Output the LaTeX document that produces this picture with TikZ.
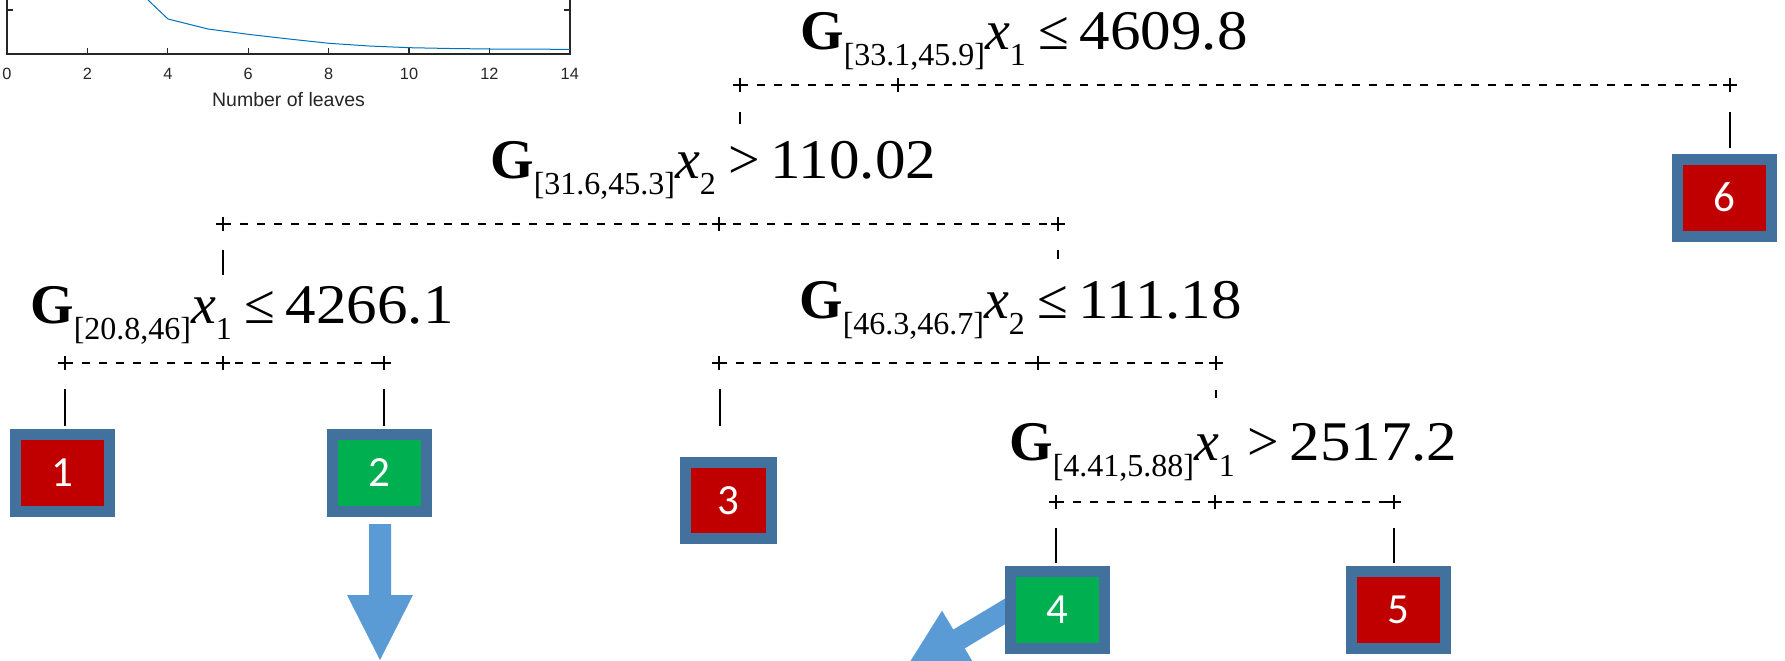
\documentclass[tikz,border=0pt]{standalone}
\usepackage{graphicx}
\usepackage{fontspec}
\setmainfont{Liberation Serif}
\newfontfamily\sansf{Liberation Sans}
\newfontfamily\calf{Carlito}
\usetikzlibrary{calc,backgrounds}
\definecolor{bord}{RGB}{65,113,156}
\definecolor{leafred}{RGB}{192,0,0}
\definecolor{leafgreen}{RGB}{0,176,80}
\definecolor{arrblue}{RGB}{91,155,213}
\definecolor{axgray}{RGB}{38,38,38}
\definecolor{curveblue}{RGB}{0,114,189}
\newcommand\lsub[1]{\raisebox{-16pt}{\fontsize{32}{32}\selectfont #1}}
\newcommand\glab[4]{\textbf{G}\lsub{#1}\textit{x}\lsub{#2}\hspace{13pt}#3\hspace{10pt}\scalebox{1.09}[1]{#4}}
\newcommand\plusat[1]{\draw[pl] ($(#1)+(-7,0)$) -- ($(#1)+(7,0)$) ($(#1)+(0,-7)$) -- ($(#1)+(0,7)$);}
\pgfdeclarelayer{bgzero}
\pgfdeclarelayer{bgone}
\pgfsetlayers{bgzero,bgone,main}
\begin{document}
\begin{tikzpicture}[x=1pt,y=-1pt,
  lbl/.style={inner sep=0pt, font=\fontsize{56}{60}\selectfont, anchor=base west},
  leaf/.style={draw=bord, line width=11pt, text=white, font=\calf\fontsize{43}{43}\selectfont, inner sep=0pt, minimum width=94pt, minimum height=77pt},
  dline/.style={line width=1.3pt, dash pattern=on 8pt off 9pt},
  pl/.style={line width=2.4pt},
  vt/.style={line width=1.8pt},
  axis/.style={draw=axgray, line width=1.1pt},
  curvest/.style={draw=curveblue, line width=1pt},
  ticklbl/.style={font=\sansf\fontsize{16.3}{18}\selectfont, text=axgray, anchor=base, inner sep=0pt},
  axlbl/.style={font=\sansf\fontsize{19.5}{22}\selectfont, text=axgray, anchor=base, inner sep=0pt},
  blockarrow/.style={fill=arrblue}]
\useasboundingbox (0,0) rectangle (1785,661);
\begin{pgfonlayer}{bgzero}\fill[white] (0,0) rectangle (1785,661);\end{pgfonlayer}
\clip (0,0) rectangle (1785,661);

% ---- plot fragment ----
\draw[axis] (7,0) -- (7,54) -- (570,54) -- (570,0);
\foreach \u in {0,2,...,14} {
  \draw[axis] ({7+40.2*\u},54) -- ({7+40.2*\u},48);
  \node[ticklbl] (t\u) at ({7+40.2*\u},80) {\u};
}
\draw[axis] (7,10) -- (13,10);
\draw[axis] (570,10) -- (564,10);
\node[axlbl] (xl) at (288.5,106) {Number of leaves};
\draw[curvest] plot coordinates {(128,-19) (168,19) (208,29) (248,34.3) (289,39) (329,43.3) (369,46) (409.5,47.7) (449.5,48.5) (490,49) (530,49.2) (570,49.3)};

% ---- labels ----
\node[lbl] (L1) at (800,50) {\glab{[33.1,45.9]}{1}{≤}{4609.8}};
\node[lbl] (L2) at (490,178) {\glab{[31.6,45.3]}{2}{>}{110.02}};
\node[lbl] (L3) at (30,323) {\glab{[20.8,46]}{1}{≤}{4266.1}};
\node[lbl] (L4) at (799,318) {\glab{[46.3,46.7]}{2}{≤}{111.18}};
\node[lbl] (L5) at (1009,460) {\glab{[4.41,5.88]}{1}{>}{2517.2}};

% ---- leaves ----
\node[leaf, fill=leafred] (n1) at (62.5,473) {1};
\node[leaf, fill=leafgreen] (n2) at (379.5,473) {2};
\node[leaf, fill=leafred, minimum width=86pt, minimum height=76pt] (n3) at (728.5,500.5) {3};
\node[leaf, fill=leafgreen] (n4) at (1057.5,609.5) {4};
\node[leaf, fill=leafred] (n5) at (1398,609.5) {5};
\node[leaf, fill=leafred] (n6) at (1724.5,197.5) {6};

% ---- split lines ----
\coordinate (A1) at (740,85);  \coordinate (M1) at (898,85);  \coordinate (B1) at (1730,85);
\coordinate (A2) at (223,224); \coordinate (M2) at (719,224); \coordinate (B2) at (1058,224);
\coordinate (A3) at (65,363);  \coordinate (M3) at (223,363); \coordinate (B3) at (384,363);
\coordinate (A4) at (719,363); \coordinate (M4) at (1038,363); \coordinate (B4) at (1216,363);
\coordinate (A5) at (1056,502); \coordinate (M5) at (1215,502); \coordinate (B5) at (1394,502);
\foreach \l in {1,...,5} {
  \draw[dline] (A\l) -- (B\l);
  \plusat{A\l}\plusat{M\l}\plusat{B\l}
}

% ---- vertical connectors ----
\coordinate (v1a) at (740,112);  \coordinate (v1b) at (740,124);
\coordinate (v1c) at (1730,112);
\coordinate (v2a) at (223,250);  \coordinate (v2b) at (223,275);
\coordinate (v2c) at (1058,250); \coordinate (v2d) at (1058,259);
\coordinate (v3a) at (65,389);   \coordinate (v3b) at (384,389);
\coordinate (v4a) at (720,389);  \coordinate (v4b) at (720,426);
\coordinate (v4c) at (1216,390); \coordinate (v4d) at (1216,398);
\coordinate (v5a) at (1056,528); \coordinate (v5b) at (1394,528);
\draw[vt] (v1a) -- (v1b);
\draw[vt, shorten >=6pt] (v1c) -- (v1c |- n6.north);
\draw[vt] (v2a) -- (v2b);
\draw[vt] (v2c) -- (v2d);
\draw[vt, shorten >=3pt] (v3a) -- (v3a |- n1.north);
\draw[vt, shorten >=3pt] (v3b) -- (v3b |- n2.north);
\draw[vt] (v4a) -- (v4b);
\draw[vt] (v4c) -- (v4d);
\draw[vt, shorten >=3pt] (v5a) -- (v5a |- n4.north);
\draw[vt, shorten >=3pt] (v5b) -- (v5b |- n5.north);

% ---- block arrows ----
\begin{pgfonlayer}{bgone}
\fill[blockarrow] ($(n2.south)+(-10.5,7)$) -- ($(n2.south)+(11.5,7)$) -- ($(n2.south)+(11.5,78)$) -- ($(n2.south)+(33.5,78)$) -- ($(n2.south)+(0.5,143)$) -- ($(n2.south)+(-32.5,78)$) -- ($(n2.south)+(-10.5,78)$) -- cycle;
\fill[blockarrow] ($(n4.west)+(1.4,-11.8)$) -- ($(n4.west)+(-51.7,20.1)$) -- ($(n4.west)+(-63,1.2)$) -- ($(n4.west)+(-101.7,63)$) -- ($(n4.west)+(-29,57.8)$) -- ($(n4.west)+(-40.3,38.9)$) -- ($(n4.west)+(12.8,7)$) -- cycle;
\end{pgfonlayer}
\end{tikzpicture}
\end{document}
